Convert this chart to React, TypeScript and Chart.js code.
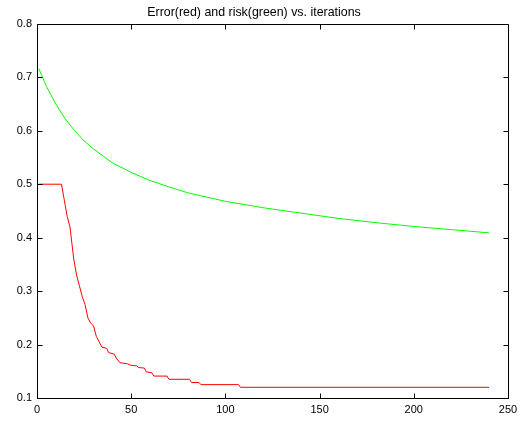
import React, { useEffect, useRef } from "react";
import { Chart, registerables } from "chart.js";

Chart.register(...registerables);

// Risk (green) sampled along the iterations
const riskIter = [1, 5, 10, 15, 20, 25, 30, 40, 50, 60, 70, 80, 90, 100, 120, 140, 160, 180, 200, 220, 240];
const riskValue = [0.716, 0.683, 0.650, 0.622, 0.600, 0.581, 0.566, 0.540, 0.522, 0.507, 0.495, 0.484, 0.476, 0.468, 0.456, 0.446, 0.436, 0.428, 0.421, 0.415, 0.409];

// Error (red): staircase corners along the iterations
const errorIter = [1, 13, 14.5, 16, 17.5, 18.5, 19.5, 21, 22.5, 24, 25.5, 27, 28.5, 30, 31.5, 33, 34.5, 37, 38, 41, 42, 44, 48, 50, 53, 54, 57, 58, 61, 62, 69, 70, 81, 82, 86, 87, 107, 108, 240];
const errorValue = [0.5, 0.5, 0.47, 0.44, 0.42, 0.39, 0.36, 0.33, 0.31, 0.29, 0.275, 0.25, 0.24, 0.235, 0.215, 0.205, 0.195, 0.193, 0.185, 0.182, 0.175, 0.166, 0.164, 0.161, 0.16, 0.157, 0.156, 0.149, 0.147, 0.141, 0.141, 0.135, 0.135, 0.129, 0.129, 0.125, 0.125, 0.12, 0.12];

const xTicks = [0, 50, 100, 150, 200, 250];
const yTicks = [0.1, 0.2, 0.3, 0.4, 0.5, 0.6, 0.7, 0.8];

const FONT = "'Liberation Sans', Arial, Helvetica, sans-serif";

// Black box around the plot with short inward tick marks on all four sides
const boxPlugin = {
  id: "boxTicks",
  afterDraw(chart: any) {
    const { ctx, chartArea, scales } = chart;
    const l = Math.round(chartArea.left) + 0.5;
    const r = Math.round(chartArea.right) + 0.5;
    const t = Math.round(chartArea.top) + 0.5;
    const b = Math.round(chartArea.bottom) + 0.5;
    const len = 5;
    ctx.save();
    ctx.strokeStyle = "#000";
    ctx.lineWidth = 1;
    ctx.beginPath();
    ctx.rect(l, t, r - l, b - t);
    for (const v of xTicks) {
      const px = Math.round(scales.x.getPixelForValue(v)) + 0.5;
      ctx.moveTo(px, b);
      ctx.lineTo(px, b - len);
      ctx.moveTo(px, t);
      ctx.lineTo(px, t + len);
    }
    for (const v of yTicks) {
      const py = Math.round(scales.y.getPixelForValue(v)) + 0.5;
      ctx.moveTo(l, py);
      ctx.lineTo(l + len, py);
      ctx.moveTo(r, py);
      ctx.lineTo(r - len, py);
    }
    ctx.stroke();
    ctx.restore();
  },
};

export default function App() {
  const canvasRef = useRef<HTMLCanvasElement | null>(null);

  useEffect(() => {
    const canvas = canvasRef.current;
    if (!canvas) return;
    const chart = new Chart(canvas, {
      type: "line",
      data: {
        datasets: [
          {
            label: "risk",
            data: riskIter.map((x, i) => ({ x, y: riskValue[i] })),
            borderColor: "#00ff00",
            borderWidth: 1,
            pointRadius: 0,
            fill: false,
            tension: 0,
          },
          {
            label: "error",
            data: errorIter.map((x, i) => ({ x, y: errorValue[i] })),
            borderColor: "#ff0000",
            borderWidth: 1,
            pointRadius: 0,
            fill: false,
            tension: 0,
          },
        ],
      },
      options: {
        responsive: false,
        animation: false,
        layout: { padding: { top: 0, right: 18, left: 0, bottom: 0 } },
        plugins: {
          legend: { display: false },
          tooltip: { enabled: false },
          title: {
            display: true,
            text: "Error(red) and risk(green) vs. iterations",
            color: "#000",
            font: { family: FONT, size: 12.4, weight: "normal", lineHeight: 1.2 },
            padding: { top: 5, bottom: 4 },
          },
        },
        scales: {
          x: {
            type: "linear",
            min: 0,
            max: 250,
            afterBuildTicks: (scale: any) => {
              scale.ticks = xTicks.map((value) => ({ value }));
            },
            afterFit: (scale: any) => {
              scale.height = 23;
            },
            grid: { display: false, drawTicks: false },
            border: { display: false },
            ticks: {
              color: "#000",
              font: { family: FONT, size: 11 },
              padding: 5,
              maxRotation: 0,
            },
          },
          y: {
            type: "linear",
            min: 0.1,
            max: 0.8,
            afterBuildTicks: (scale: any) => {
              scale.ticks = yTicks.map((value) => ({ value }));
            },
            afterFit: (scale: any) => {
              scale.width = 37;
            },
            grid: { display: false, drawTicks: false },
            border: { display: false },
            ticks: {
              color: "#000",
              font: { family: FONT, size: 11 },
              padding: 5,
              callback: (v: any) => Number(v).toFixed(1),
            },
          },
        },
      },
      plugins: [boxPlugin],
    });
    return () => chart.destroy();
  }, []);

  return (
    <div style={{ position: "fixed", left: 0, top: 0, width: 526, height: 421, background: "#fff" }}>
      <canvas ref={canvasRef} width={526} height={421} />
    </div>
  );
}
